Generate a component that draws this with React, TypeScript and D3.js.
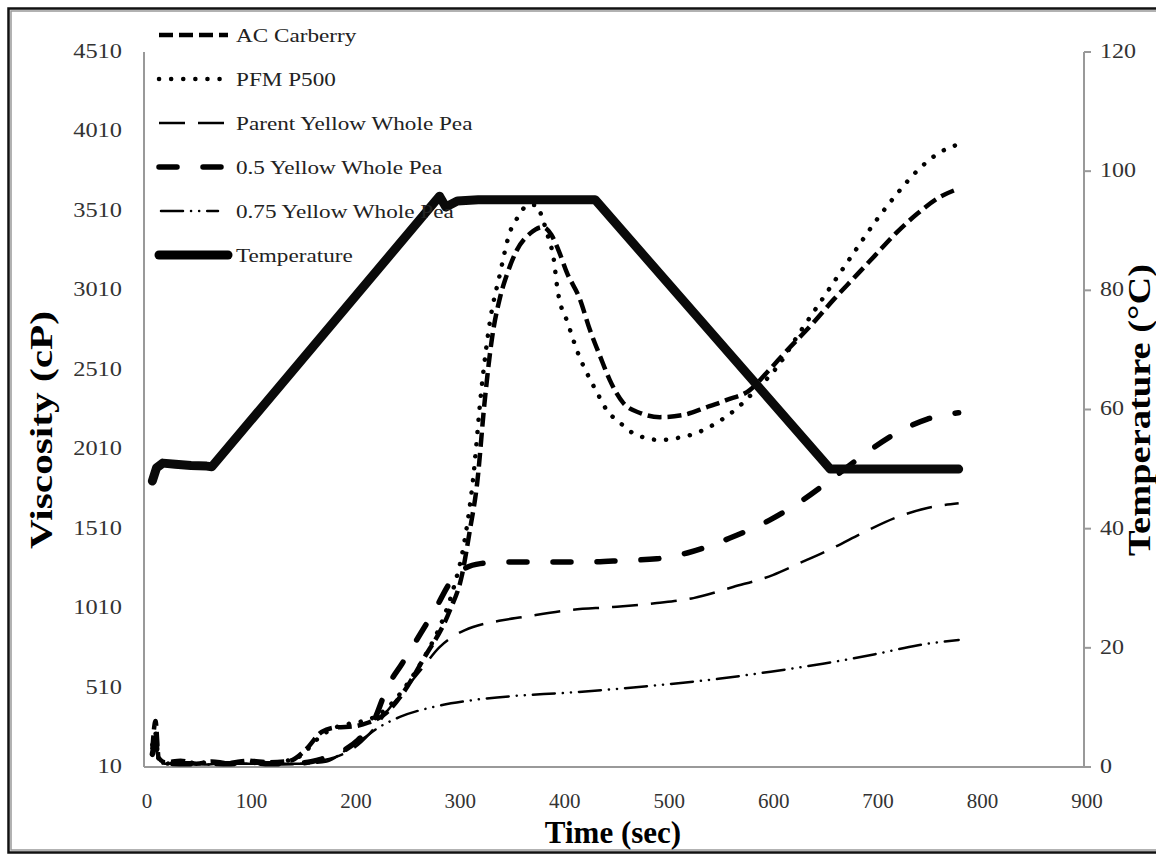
import * as d3 from "d3";

// time (s) / viscosity (cP) readings per sample
const acCarberry: [number, number][] = [
  [8, 120], [11, 300], [14, 70], [20, 40], [35, 50], [50, 30], [65, 45], [80, 35], [100, 50], [120, 40], [140, 50],
  [155, 120], [170, 230], [185, 260], [200, 265], [215, 290], [230, 340], [248, 476], [267, 683], [293, 998],
  [304, 1205], [312, 1500], [319, 1797], [326, 2300], [333, 2700], [341, 2968], [348, 3119], [357, 3263],
  [370, 3370], [382, 3408], [390, 3360], [397, 3260], [405, 3120], [417, 2960], [427, 2760], [437, 2590],
  [446, 2445], [459, 2300], [475, 2238], [494, 2212], [516, 2225], [539, 2275], [558, 2320], [580, 2382],
  [596, 2490], [616, 2634], [640, 2800], [660, 2950], [680, 3090], [700, 3230], [720, 3370], [740, 3490],
  [760, 3590], [780, 3650],
];

const pfmP500: [number, number][] = [
  [8, 150], [11, 220], [14, 60], [20, 30], [35, 45], [50, 35], [65, 40], [80, 30], [100, 45], [120, 35], [140, 55],
  [150, 80], [165, 180], [180, 250], [195, 280], [210, 300], [225, 340], [240, 430], [255, 560], [270, 720],
  [285, 920], [297, 1150], [306, 1400], [315, 1816], [323, 2382], [331, 2804], [341, 3119], [350, 3370],
  [358, 3471], [368, 3547], [376, 3547], [381, 3471], [387, 3345], [392, 3219], [396, 3012], [406, 2800],
  [417, 2590], [424, 2490], [434, 2364], [443, 2257], [456, 2175], [468, 2112], [481, 2080], [494, 2068],
  [510, 2080], [529, 2112], [548, 2175], [568, 2269], [583, 2364], [609, 2552], [625, 2716], [650, 2960],
  [680, 3250], [700, 3440], [720, 3610], [740, 3760], [760, 3870], [780, 3930],
];

const parentPea: [number, number][] = [
  [8, 100], [11, 180], [14, 50], [20, 30], [40, 35], [60, 25], [80, 35], [100, 30], [120, 30], [150, 30],
  [170, 50], [190, 90], [205, 150], [220, 250], [235, 380], [250, 500], [265, 620], [283, 765], [298, 840],
  [315, 891], [340, 930], [363, 954], [408, 998], [449, 1017], [491, 1042], [526, 1073], [564, 1143],
  [602, 1218], [628, 1294], [660, 1390], [690, 1490], [720, 1580], [750, 1640], [780, 1670],
];

const halfPea: [number, number][] = [
  [8, 90], [11, 160], [14, 50], [20, 35], [40, 30], [60, 35], [80, 30], [100, 40], [120, 30], [150, 35],
  [170, 60], [190, 110], [205, 180], [220, 300], [233, 513], [247, 660], [261, 809], [280, 1017], [293, 1170],
  [305, 1250], [322, 1290], [345, 1300], [380, 1300], [420, 1300], [460, 1310], [491, 1320], [520, 1357],
  [561, 1451], [599, 1564], [628, 1678], [660, 1830], [690, 1980], [720, 2110], [750, 2200], [780, 2240],
];

const threeQuarterPea: [number, number][] = [
  [8, 80], [11, 140], [14, 45], [20, 30], [40, 35], [60, 25], [80, 30], [100, 30], [120, 25], [150, 30],
  [175, 45], [194, 120], [210, 190], [225, 260], [245, 325], [277, 388], [315, 431], [360, 460], [400, 475],
  [450, 500], [500, 530], [550, 565], [600, 610], [650, 660], [700, 720], [740, 775], [780, 810],
];

// time (s) / temperature (°C)
const temperature: [number, number][] = [
  [8, 48], [12, 50.2], [18, 51], [30, 50.8], [45, 50.6], [60, 50.5], [65, 50.4], [283, 95.8], [289, 94],
  [300, 95], [320, 95.2], [432, 95.2], [657, 50], [780, 50],
];

const timeTicks = [0, 100, 200, 300, 400, 500, 600, 700, 800, 900];
const viscTicks = [10, 510, 1010, 1510, 2010, 2510, 3010, 3510, 4010, 4510];
const tempTicks = [0, 20, 40, 60, 80, 100, 120];

const seriesNames = [
  "AC Carberry",
  "PFM P500",
  "Parent Yellow Whole Pea",
  "0.5 Yellow Whole Pea",
  "0.75 Yellow Whole Pea",
  "Temperature",
];

const styles = [
  { w: 4.5, dash: "14,6", cap: "butt" },
  { w: 4.5, dash: "0.1,12", cap: "round" },
  { w: 2.5, dash: "26,13", cap: "butt" },
  { w: 5.5, dash: "18,26", cap: "round" },
  { w: 2.5, dash: "22,8,0.1,8,0.1,8", cap: "round" },
  { w: 9, dash: "none", cap: "round" },
];

export default function App() {
  const W = 1156;
  const H = 854;
  const x = d3.scaleLinear().domain([0, 900]).range([144, 1084]);
  const yV = d3.scaleLinear().domain([10, 4510]).range([767, 52]);
  const yT = d3.scaleLinear().domain([0, 120]).range([767, 52]);

  const viscLine = d3
    .line<[number, number]>()
    .x((d) => x(d[0]))
    .y((d) => yV(d[1]))
    .curve(d3.curveMonotoneX);
  const tempLine = d3
    .line<[number, number]>()
    .x((d) => x(d[0]))
    .y((d) => yT(d[1]));

  const viscSeries = [acCarberry, pfmP500, parentPea, halfPea, threeQuarterPea];
  const font = "'Liberation Serif', 'Times New Roman', serif";

  return (
    <svg width={W} height={H} style={{ position: "absolute", left: 0, top: 0, background: "#fff" }}>
      <rect x={8.5} y={8.5} width={1170} height={844} fill="none" stroke="#111" strokeWidth={2.5} />
      <rect x={11} y={11} width={1165} height={839} fill="none" stroke="#999" strokeWidth={1.5} />

      {/* axes */}
      <line x1={144} x2={144} y1={52} y2={767} stroke="#999" strokeWidth={2} />
      <line x1={144} x2={1084} y1={767} y2={767} stroke="#999" strokeWidth={2} />
      <line x1={1084} x2={1084} y1={52} y2={767} stroke="#999" strokeWidth={2} />
      {tempTicks.map((t) => (
        <line key={t} x1={1084} x2={1091} y1={yT(t)} y2={yT(t)} stroke="#999" strokeWidth={2} />
      ))}

      {viscTicks.map((v) => (
        <text key={v} x={122} y={yV(v) + 6} textAnchor="end" fontFamily={font} fontSize={20} fill="#333"
          transform={`translate(122,0) scale(1.22,1) translate(-122,0)`}>
          {v}
        </text>
      ))}
      {tempTicks.map((t) => (
        <text key={t} x={1100} y={yT(t) + 6} fontFamily={font} fontSize={20} fill="#333"
          transform={`translate(1100,0) scale(1.2,1) translate(-1100,0)`}>
          {t}
        </text>
      ))}
      {timeTicks.map((t) => (
        <text key={t} x={x(t) + 3} y={808} textAnchor="middle" fontFamily={font} fontSize={21} fill="#333">
          {t}
        </text>
      ))}

      <text x={613} y={843} textAnchor="middle" fontFamily={font} fontSize={31} fontWeight="bold">
        Time (sec)
      </text>
      <text transform="translate(52,430) rotate(-90)" textAnchor="middle" fontFamily={font} fontSize={32}
        fontWeight="bold" textLength={238} lengthAdjust="spacingAndGlyphs">
        Viscosity (cP)
      </text>
      <text transform="translate(1150,410) rotate(-90)" textAnchor="middle" fontFamily={font} fontSize={32}
        fontWeight="bold" textLength={292} lengthAdjust="spacingAndGlyphs">
        Temperature (°C)
      </text>

      {/* series */}
      {viscSeries.map((s, i) => (
        <path key={i} d={viscLine(s) ?? ""} fill="none" stroke="#000" strokeWidth={styles[i].w}
          strokeDasharray={styles[i].dash} strokeLinecap={styles[i].cap as any} strokeLinejoin="round" />
      ))}
      <path d={tempLine(temperature) ?? ""} fill="none" stroke="#0a0a0a" strokeWidth={styles[5].w}
        strokeLinejoin="round" strokeLinecap="round" />

      {/* legend */}
      {seriesNames.map((name, i) => {
        const cy = 35 + i * 44;
        return (
          <g key={name}>
            <line x1={i === 4 ? 161 : 159} x2={i === 4 ? 218 : 228} y1={cy} y2={cy} stroke="#000"
              strokeWidth={styles[i].w} strokeDasharray={styles[i].dash}
              strokeLinecap={styles[i].cap as any} />
            <text x={236} y={cy + 7} fontFamily={font} fontSize={19} fill="#222"
              transform={`translate(236,0) scale(1.22,1) translate(-236,0)`}>
              {name}
            </text>
          </g>
        );
      })}
    </svg>
  );
}
